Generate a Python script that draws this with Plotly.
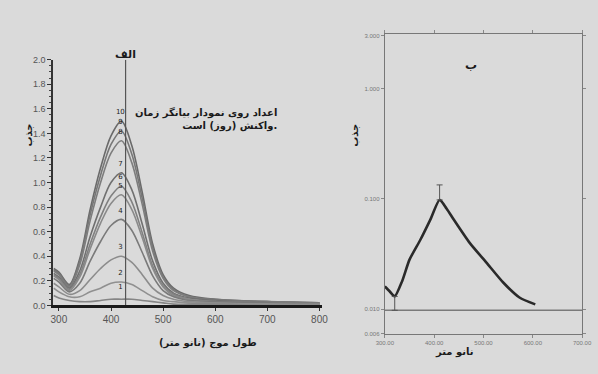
import plotly.graph_objects as go

# ---------------- data: left panel (absorbance spectra) ----------------
wavelength = [290, 300, 320, 340, 360, 380, 400, 420, 440, 460, 480, 500, 520, 550, 600, 700, 800]
spectra = {
    "10": [0.30, 0.27, 0.17, 0.38, 0.78, 1.12, 1.38, 1.50, 1.30, 0.92, 0.50, 0.25, 0.14, 0.08, 0.05, 0.03, 0.02],
    "9":  [0.29, 0.26, 0.16, 0.36, 0.74, 1.06, 1.31, 1.42, 1.23, 0.87, 0.47, 0.23, 0.13, 0.07, 0.05, 0.03, 0.02],
    "8":  [0.28, 0.25, 0.15, 0.33, 0.69, 1.00, 1.24, 1.34, 1.16, 0.82, 0.44, 0.22, 0.12, 0.07, 0.04, 0.03, 0.02],
    "7":  [0.26, 0.23, 0.14, 0.28, 0.56, 0.80, 1.00, 1.08, 0.94, 0.66, 0.36, 0.18, 0.10, 0.06, 0.04, 0.02, 0.01],
    "6":  [0.25, 0.22, 0.13, 0.25, 0.50, 0.72, 0.89, 0.97, 0.84, 0.59, 0.32, 0.16, 0.09, 0.05, 0.03, 0.02, 0.01],
    "5":  [0.24, 0.21, 0.12, 0.23, 0.46, 0.67, 0.83, 0.90, 0.78, 0.55, 0.30, 0.15, 0.08, 0.05, 0.03, 0.02, 0.01],
    "4":  [0.22, 0.19, 0.11, 0.18, 0.36, 0.52, 0.65, 0.70, 0.61, 0.43, 0.24, 0.12, 0.07, 0.04, 0.03, 0.02, 0.01],
    "3":  [0.18, 0.15, 0.09, 0.12, 0.21, 0.30, 0.37, 0.40, 0.35, 0.25, 0.14, 0.08, 0.05, 0.03, 0.02, 0.01, 0.01],
    "2":  [0.14, 0.11, 0.07, 0.07, 0.11, 0.14, 0.18, 0.19, 0.17, 0.12, 0.07, 0.04, 0.03, 0.02, 0.01, 0.01, 0.00],
    "1":  [0.08, 0.06, 0.04, 0.03, 0.03, 0.04, 0.05, 0.05, 0.05, 0.04, 0.03, 0.02, 0.01, 0.01, 0.01, 0.00, 0.00],
}
label_wavelength = 418
peak_line_wavelength = 428
peak_line_top = 2.0
left_xticks = [300, 400, 500, 600, 700, 800]
left_yticks = [0.0, 0.2, 0.4, 0.6, 0.8, 1.0, 1.2, 1.4, 1.6, 1.8, 2.0]

# ---------------- data: right panel ----------------
nm_right = [300, 310, 320, 335, 350, 372, 392, 411, 425, 440, 472, 506, 540, 573, 605]
abs_right = [0.0161, 0.0145, 0.0131, 0.0180, 0.0282, 0.0427, 0.0647, 0.098, 0.082, 0.0647, 0.040, 0.0265, 0.0175, 0.0128, 0.0111]
err_nm = [320, 411]
err_center = [0.0131, 0.098]
err_plus = [0, 0.036]
err_minus = [0.0033, 0]
baseline_right = 0.0098
right_xticks = [300, 400, 500, 600, 700]
right_xticktext = ["300.00", "400.00", "500.00", "600.00", "700.00"]
right_yticks = [0.006, 0.01, 0.1, 1, 3]
right_yticktext = ["0.006", "0.010", "0.100", "1.000", "3.000"]

W, H = 598, 374
BG = "#dadada"
FA = "DejaVu Sans, Noto Sans, sans-serif"

def px(x):
    return (x - 4) / 590

def py(y):
    return 1 - (y - 4) / 366

fig = go.Figure()

greys = ["#6a6a6a", "#777777", "#7d7d7d", "#707070", "#808080", "#8a8a8a", "#7a7a7a", "#8c8c8c", "#909090", "#858585"]
for i, (name, vals) in enumerate(spectra.items()):
    fig.add_trace(go.Scatter(x=wavelength, y=vals, mode="lines", line=dict(color=greys[i], width=1.6, shape="spline", smoothing=0.9),
                             xaxis="x", yaxis="y", showlegend=False, hoverinfo="skip"))

fig.add_trace(go.Scatter(x=[peak_line_wavelength, peak_line_wavelength], y=[0, peak_line_top], mode="lines",
                         line=dict(color="#555555", width=1.2), xaxis="x", yaxis="y", showlegend=False))

names = list(spectra.keys())
peaks = [max(v) for v in spectra.values()]
fig.add_trace(go.Scatter(x=[label_wavelength] * len(names), y=[p + 0.07 for p in peaks], mode="text", text=names,
                         textfont=dict(size=7, color="#222222", family="DejaVu Sans"), xaxis="x", yaxis="y", showlegend=False))

fig.add_trace(go.Scatter(x=[nm_right[0], 700], y=[baseline_right, baseline_right], mode="lines",
                         line=dict(color="#7a7a7a", width=1.5), xaxis="x2", yaxis="y2", showlegend=False))
fig.add_trace(go.Scatter(x=nm_right, y=abs_right, mode="lines", line=dict(color="#2a2a2a", width=2.6, shape="spline", smoothing=0.6),
                         xaxis="x2", yaxis="y2", showlegend=False))
fig.add_trace(go.Scatter(x=err_nm, y=err_center, mode="markers", marker=dict(size=1, color="rgba(0,0,0,0)"),
                         error_y=dict(type="data", symmetric=False, array=err_plus, arrayminus=err_minus, color="#555555", thickness=1, width=3),
                         xaxis="x2", yaxis="y2", showlegend=False))

fig.update_layout(
    width=W, height=H, margin=dict(l=0, r=0, t=0, b=0),
    paper_bgcolor=BG, plot_bgcolor=BG, showlegend=False,
    font=dict(family="Liberation Sans, DejaVu Sans, sans-serif", color="#444444"),
    xaxis=dict(domain=[px(49), px(323)], range=[289, 805], tickvals=left_xticks, showgrid=False, zeroline=False,
               showline=True, linecolor="#1a1a1a", linewidth=2.5, ticks="outside", ticklen=3, tickcolor="#333333",
               tickfont=dict(size=10, color="#555555"), anchor="y", ticklabeloverflow="allow"),
    yaxis=dict(domain=[py(306), py(59)], range=[0, 2.0], tickvals=left_yticks, tickformat=".1f", showgrid=False, zeroline=False,
               showline=True, linecolor="#333333", linewidth=1.5, ticks="outside", ticklen=4, tickcolor="#333333",
               minor=dict(dtick=0.05, ticklen=2, ticks="outside", tickcolor="#444444"),
               tickfont=dict(size=9, color="#555555"), anchor="x", ticklabeloverflow="allow"),
    xaxis2=dict(domain=[px(387), px(588)], range=[300, 700], tickvals=right_xticks, ticktext=right_xticktext, showgrid=False, zeroline=False,
                showline=True, linecolor="#777777", linewidth=1.2, mirror="ticks", ticks="outside", ticklen=3, tickcolor="#888888",
                tickfont=dict(size=6, color="#777777"), anchor="y2", ticklabeloverflow="allow"),
    yaxis2=dict(domain=[py(335), py(33)], type="log", range=[-2.225, 0.4955], tickvals=right_yticks, ticktext=right_yticktext,
                showgrid=False, zeroline=False, showline=True, linecolor="#777777", linewidth=1.2, mirror="ticks",
                ticks="outside", ticklen=3, tickcolor="#888888", tickfont=dict(size=6, color="#777777"), anchor="x2",
                ticklabeloverflow="allow"),
)

ann = [
    dict(text="الف", x=px(110), y=py(45), size=11),
    dict(text="ب", x=px(483), y=py(55), size=12),
    dict(text="طول موج (نانو متر)", x=px(155), y=py(352), size=10),
    dict(text="نانو متر", x=px(480), y=py(361), size=10),
]
for a in ann:
    fig.add_annotation(text="<b>%s</b>" % a["text"], x=a["x"], y=a["y"], xref="paper", yref="paper", showarrow=False,
                       font=dict(size=a["size"], color="#1a1a1a", family=FA))
for xx in [16, 356]:
    fig.add_annotation(text="<b>جذب</b>", x=px(xx), y=py(135), xref="paper", yref="paper", showarrow=False, textangle=-90,
                       font=dict(size=10, color="#1a1a1a", family=FA))
fig.add_annotation(text="<b>اعداد روی نمودار بیانگر زمان<br>واکنش (روز) است.</b>", x=px(279), y=py(104), xref="paper", yref="paper",
                   showarrow=False, align="right", xanchor="right", font=dict(size=10, color="#1a1a1a", family=FA))

fig.write_html("out.html")
